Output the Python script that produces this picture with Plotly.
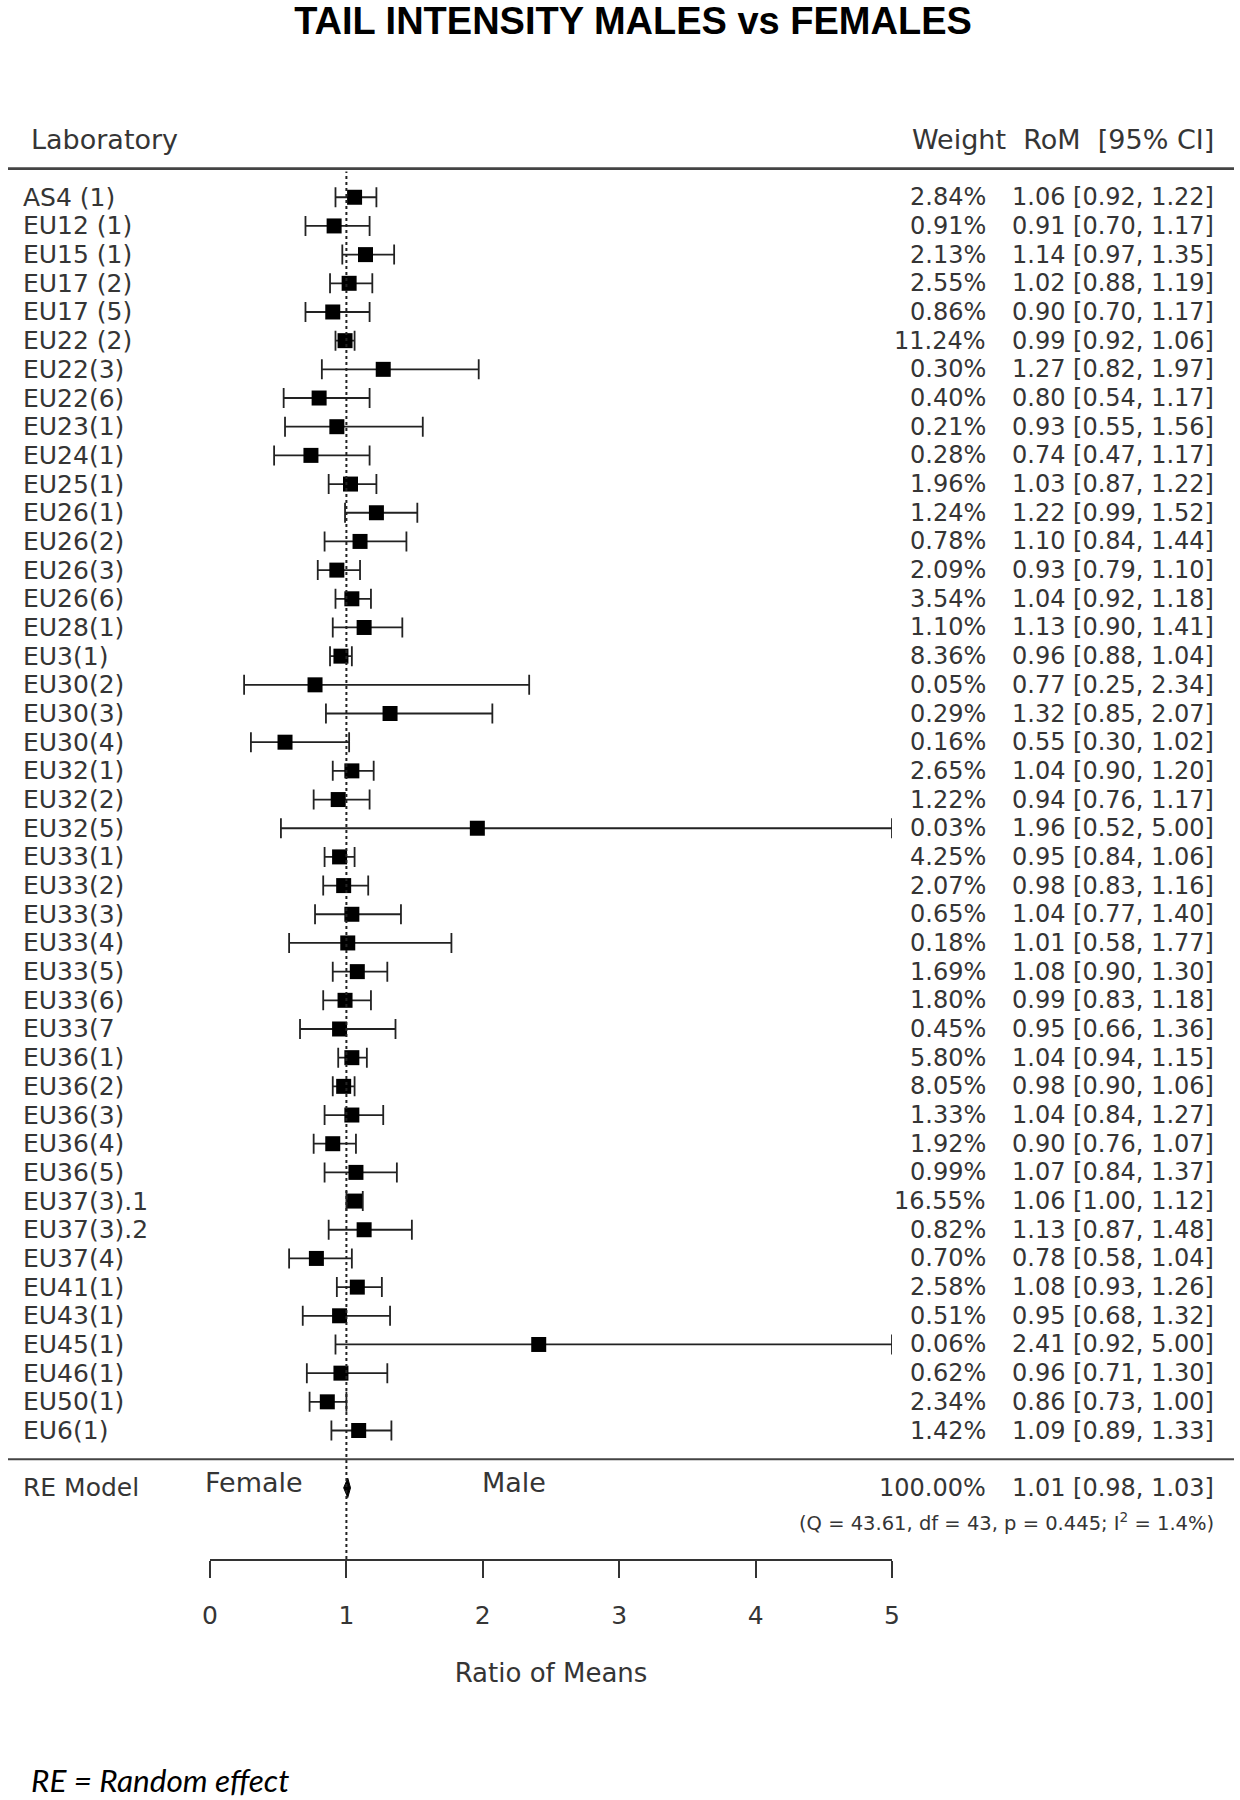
import plotly.graph_objects as go

# study labels, weights (%), ratio of means and 95% CI
labs = ["AS4 (1)", "EU12 (1)", "EU15 (1)", "EU17 (2)", "EU17 (5)", "EU22 (2)", "EU22(3)",
        "EU22(6)", "EU23(1)", "EU24(1)", "EU25(1)", "EU26(1)", "EU26(2)", "EU26(3)",
        "EU26(6)", "EU28(1)", "EU3(1)", "EU30(2)", "EU30(3)", "EU30(4)", "EU32(1)",
        "EU32(2)", "EU32(5)", "EU33(1)", "EU33(2)", "EU33(3)", "EU33(4)", "EU33(5)",
        "EU33(6)", "EU33(7", "EU36(1)", "EU36(2)", "EU36(3)", "EU36(4)", "EU36(5)",
        "EU37(3).1", "EU37(3).2", "EU37(4)", "EU41(1)", "EU43(1)", "EU45(1)", "EU46(1)",
        "EU50(1)", "EU6(1)"]
weights = [2.84, 0.91, 2.13, 2.55, 0.86, 11.24, 0.30, 0.40, 0.21, 0.28, 1.96, 1.24, 0.78, 2.09,
           3.54, 1.10, 8.36, 0.05, 0.29, 0.16, 2.65, 1.22, 0.03, 4.25, 2.07, 0.65, 0.18, 1.69,
           1.80, 0.45, 5.80, 8.05, 1.33, 1.92, 0.99, 16.55, 0.82, 0.70, 2.58, 0.51, 0.06, 0.62,
           2.34, 1.42]
rom = [1.06, 0.91, 1.14, 1.02, 0.90, 0.99, 1.27, 0.80, 0.93, 0.74, 1.03, 1.22, 1.10, 0.93,
       1.04, 1.13, 0.96, 0.77, 1.32, 0.55, 1.04, 0.94, 1.96, 0.95, 0.98, 1.04, 1.01, 1.08,
       0.99, 0.95, 1.04, 0.98, 1.04, 0.90, 1.07, 1.06, 1.13, 0.78, 1.08, 0.95, 2.41, 0.96,
       0.86, 1.09]
ci_lo = [0.92, 0.70, 0.97, 0.88, 0.70, 0.92, 0.82, 0.54, 0.55, 0.47, 0.87, 0.99, 0.84, 0.79,
         0.92, 0.90, 0.88, 0.25, 0.85, 0.30, 0.90, 0.76, 0.52, 0.84, 0.83, 0.77, 0.58, 0.90,
         0.83, 0.66, 0.94, 0.90, 0.84, 0.76, 0.84, 1.00, 0.87, 0.58, 0.93, 0.68, 0.92, 0.71,
         0.73, 0.89]
ci_hi = [1.22, 1.17, 1.35, 1.19, 1.17, 1.06, 1.97, 1.17, 1.56, 1.17, 1.22, 1.52, 1.44, 1.10,
         1.18, 1.41, 1.04, 2.34, 2.07, 1.02, 1.20, 1.17, 5.00, 1.06, 1.16, 1.40, 1.77, 1.30,
         1.18, 1.36, 1.15, 1.06, 1.27, 1.07, 1.37, 1.12, 1.48, 1.04, 1.26, 1.32, 5.00, 1.30,
         1.00, 1.33]

re_est, re_lo, re_hi, re_weight = 1.01, 0.98, 1.03, 100.00
q_text = "(Q = 43.61, df = 43, p = 0.445; I<sup>2</sup> = 1.4%)"
x_ticks = [0, 1, 2, 3, 4, 5]

k = len(labs)
rows = list(range(k, 0, -1))
W, H = 1240, 1800
FONT = "DejaVu Sans"
TXT = "#353535"

X_LAB = 21 / W        # left edge of study labels
X_WT = 988 / W        # right edge of weights
X_ROM = 1216 / W      # right edge of RoM [CI]

fig = go.Figure()

# study estimates with CIs
fig.add_trace(go.Scatter(
    x=rom, y=rows, mode="markers",
    marker=dict(symbol="square", size=15, color="black", line=dict(width=0)),
    error_x=dict(type="data", symmetric=False,
                 array=[h - e for h, e in zip(ci_hi, rom)],
                 arrayminus=[e - l for e, l in zip(rom, ci_lo)],
                 color="#222", thickness=1.8, width=10),
    showlegend=False, hoverinfo="skip"
))

# RE model diamond
dh = 0.34
fig.add_trace(go.Scatter(
    x=[re_lo, re_est, re_hi, re_est, re_lo],
    y=[-1, -1 + dh, -1, -1 - dh, -1],
    mode="lines", fill="toself", fillcolor="black",
    line=dict(color="black", width=1), showlegend=False, hoverinfo="skip"
))

# reference line at 1
fig.add_shape(type="line", xref="x", yref="y", x0=1, x1=1, y0=-3.48, y1=44.9,
              line=dict(color="#222", width=2, dash="dot"))

# horizontal rules
for yy, lw in [(45, 2.8), (0, 2)]:
    fig.add_shape(type="line", xref="paper", yref="y", x0=8 / W, x1=1234 / W, y0=yy, y1=yy,
                  line=dict(color="#444", width=lw))

ann = []
for lab, w, e, l, h, r in zip(labs, weights, rom, ci_lo, ci_hi, rows):
    ann.append(dict(x=X_LAB, y=r, xref="paper", yref="y", text=lab, xanchor="left",
                    showarrow=False, font=dict(family=FONT, size=25, color=TXT)))
    ann.append(dict(x=X_WT, y=r, xref="paper", yref="y", text=f"{w:.2f}%", xanchor="right",
                    showarrow=False, font=dict(family=FONT, size=24, color=TXT)))
    ann.append(dict(x=X_ROM, y=r, xref="paper", yref="y",
                    text=f"{e:.2f} [{l:.2f}, {h:.2f}]", xanchor="right",
                    showarrow=False, font=dict(family=FONT, size=24, color=TXT)))

# header
ann.append(dict(x=29 / W, y=46, xref="paper", yref="y", text="Laboratory", xanchor="left",
                showarrow=False, font=dict(family=FONT, size=27, color=TXT)))
ann.append(dict(x=X_ROM, y=46, xref="paper", yref="y", text="Weight  RoM  [95% CI]",
                xanchor="right", showarrow=False, font=dict(family=FONT, size=27, color=TXT)))

# summary row
ann.append(dict(x=X_LAB, y=-1, xref="paper", yref="y", text="RE Model", xanchor="left",
                showarrow=False, font=dict(family=FONT, size=25, color=TXT)))
ann.append(dict(x=X_WT, y=-1, xref="paper", yref="y", text=f"{re_weight:.2f}%",
                xanchor="right", showarrow=False, font=dict(family=FONT, size=24, color=TXT)))
ann.append(dict(x=X_ROM, y=-1, xref="paper", yref="y",
                text=f"{re_est:.2f} [{re_lo:.2f}, {re_hi:.2f}]", xanchor="right",
                showarrow=False, font=dict(family=FONT, size=24, color=TXT)))
ann.append(dict(x=X_ROM, y=-2.18, xref="paper", yref="y", text=q_text, xanchor="right",
                showarrow=False, font=dict(family=FONT, size=19.5, color=TXT)))
ann.append(dict(x=254 / W, y=-0.8, xref="paper", yref="y", text="Female", xanchor="center",
                showarrow=False, font=dict(family=FONT, size=27, color=TXT)))
ann.append(dict(x=514 / W, y=-0.8, xref="paper", yref="y", text="Male", xanchor="center",
                showarrow=False, font=dict(family=FONT, size=27, color=TXT)))

# footnote
ann.append(dict(x=29 / W, y=1 - 1780 / H, xref="paper", yref="paper",
                text="<i>RE = Random effect</i>",
                xanchor="left", yanchor="middle", showarrow=False,
                font=dict(family="Lato, Open Sans", size=31.5, color="black")))

ybot = 1 - 1559 / H
fig.update_layout(
    width=W, height=H,
    margin=dict(l=0, r=0, t=0, b=0, autoexpand=False),
    paper_bgcolor="white", plot_bgcolor="white",
    title=dict(text="<b>TAIL INTENSITY MALES vs FEMALES</b>", x=633 / W, xanchor="center",
               y=1 - 21 / H, yanchor="middle",
               font=dict(family="Liberation Sans, Arial", size=38, color="black")),
    xaxis=dict(domain=[210 / W, 892 / W], range=[0, 5], tickvals=x_ticks, automargin=False,
               showgrid=False, zeroline=False, showline=True, linecolor="#333", linewidth=1.8,
               ticks="outside", ticklen=17, tickwidth=1.8, tickcolor="#333",
               ticklabelstandoff=16,
               tickfont=dict(family=FONT, size=25, color=TXT),
               title=dict(text="Ratio of Means", standoff=35,
                          font=dict(family=FONT, size=26, color=TXT))),
    yaxis=dict(domain=[ybot, 1], range=[-3.48, 50.878], visible=False, showgrid=False,
               zeroline=False, automargin=False),
    annotations=ann,
)

fig.write_html("out.html", config={"displayModeBar": False},
               post_script="document.body.style.margin='0px';")
